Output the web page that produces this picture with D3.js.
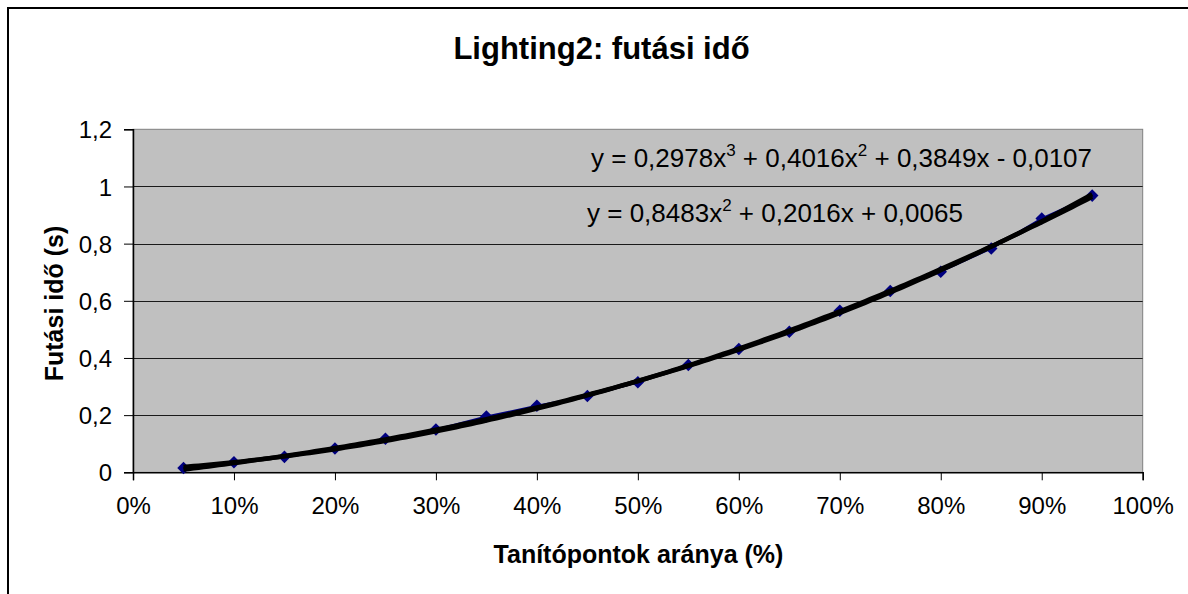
<!DOCTYPE html>
<html>
<head>
<meta charset="utf-8">
<script src="https://cdn.jsdelivr.net/npm/d3@7"></script>
<style>
  body { margin: 0; background: #fff; }
  svg { display: block; font-family: 'Liberation Sans', Arial, sans-serif; }
</style>
</head>
<body>
<svg width="1188" height="594"></svg>
<script>
// measured points (x in %, running time in s)
const xPct = [5, 10, 15, 20, 25, 30, 35, 40, 45, 50, 55, 60, 65, 70, 75, 80, 85, 90, 95];
const runTime = [0.015, 0.035, 0.054, 0.083, 0.117, 0.150, 0.195, 0.233, 0.267, 0.315, 0.375,
  0.431, 0.492, 0.565, 0.634, 0.702, 0.783, 0.888, 0.968];

// trendline coefficients, constant term first (x as fraction)
const cubicCoef = [-0.0107, 0.3849, 0.4016, 0.2978];
const quadCoef = [0.0065, 0.2016, 0.8483];

const xTicks = [0, 10, 20, 30, 40, 50, 60, 70, 80, 90, 100];
const yTicks = [0, 0.2, 0.4, 0.6, 0.8, 1, 1.2];

const titleText = 'Lighting2: futási idő';
const xTitle = 'Tanítópontok aránya (%)';
const yTitle = 'Futási idő (s)';

const plot = { left: 133, top: 129.3, right: 1142.7, bottom: 472.3 };

const svg = d3.select('svg');

// chart frame (runs past the window on right and bottom)
svg.append('rect')
  .attr('x', 8).attr('y', 8)
  .attr('width', 1300).attr('height', 700)
  .attr('fill', '#fff')
  .attr('stroke', '#000')
  .attr('stroke-width', 2);

const xScale = d3.scaleLinear().domain([0, 100]).range([plot.left, plot.right]);
const yScale = d3.scaleLinear().domain([0, 1.2]).range([plot.bottom, plot.top]);

// plot area
svg.append('rect')
  .attr('x', plot.left).attr('y', plot.top)
  .attr('width', plot.right - plot.left)
  .attr('height', plot.bottom - plot.top)
  .attr('fill', '#c0c0c0')
  .attr('stroke', '#808080')
  .attr('stroke-width', 1);

// gridlines
svg.append('g')
  .selectAll('line')
  .data(yTicks.filter(d => d > 0 && d < 1.2))
  .enter()
  .append('line')
    .attr('x1', plot.left)
    .attr('x2', plot.right)
    .attr('y1', d => Math.round(yScale(d)) + 0.5)
    .attr('y2', d => Math.round(yScale(d)) + 0.5)
    .attr('stroke', '#1a1a1a')
    .attr('stroke-width', 1);

const yAxis = d3.axisLeft(yScale)
  .tickValues(yTicks)
  .tickSize(9)
  .tickPadding(12)
  .tickFormat(d => String(d).replace('.', ','));

const xAxis = d3.axisBottom(xScale)
  .tickValues(xTicks)
  .tickSize(8)
  .tickPadding(12)
  .tickFormat(d => d + '%');

const gy = svg.append('g')
  .attr('transform', `translate(${plot.left},0)`)
  .call(yAxis);

const gx = svg.append('g')
  .attr('transform', `translate(0,${plot.bottom})`)
  .call(xAxis);

[gx, gy].forEach(g => {
  g.select('.domain').attr('stroke', '#000').attr('stroke-width', 1.5);
  g.selectAll('.tick line').attr('stroke', '#000');
  g.selectAll('.tick text')
    .attr('fill', '#000')
    .style('font-size', '24px')
    .style('font-family', "'Liberation Sans', Arial, sans-serif");
});
gy.selectAll('.tick text').attr('dy', '0.36em');
gx.selectAll('.tick text').attr('dy', '0.92em');

// series line + diamonds
const points = xPct.map((x, i) => ({ x, y: runTime[i] }));

svg.append('path')
  .datum(points)
  .attr('fill', 'none')
  .attr('stroke', '#000080')
  .attr('stroke-width', 2)
  .attr('d', d3.line().x(d => xScale(d.x)).y(d => yScale(d.y)));

svg.append('g')
  .selectAll('path')
  .data(points)
  .enter()
  .append('path')
    .attr('transform', d => `translate(${xScale(d.x)},${yScale(d.y)})`)
    .attr('d', d3.symbol().type(d3.symbolDiamond2).size(100))
    .attr('fill', '#000080');

// trendlines
const poly = (coef) => (x) => coef.reduce((s, c, k) => s + c * Math.pow(x, k), 0);
const trendX = d3.range(0.05, 0.9501, 0.005);
const trendLine = d3.line().x(d => xScale(d[0] * 100)).y(d => yScale(d[1]));

[quadCoef, cubicCoef].forEach(coef => {
  const f = poly(coef);
  svg.append('path')
    .datum(trendX.map(x => [x, f(x)]))
    .attr('fill', 'none')
    .attr('stroke', '#000')
    .attr('stroke-width', 4.5)
    .attr('stroke-linejoin', 'round')
    .attr('d', trendLine);
});

// trendline equations
const eqs = [
  { x: 591, y: 166.5, parts: [['y = 0,2978x'], ['3', true], [' + 0,4016x'], ['2', true], [' + 0,3849x - 0,0107']] },
  { x: 587, y: 221.5, parts: [['y = 0,8483x'], ['2', true], [' + 0,2016x + 0,0065']] }
];

eqs.forEach(eq => {
  const t = svg.append('text')
    .attr('x', eq.x).attr('y', eq.y)
    .style('font-size', '26px')
    .attr('fill', '#000')
    .attr('xml:space', 'preserve');
  let up = false;
  eq.parts.forEach(([s, sup]) => {
    const ts = t.append('tspan').text(s);
    if (sup && !up) { ts.attr('dy', -11).style('font-size', '17px'); up = true; }
    else if (!sup && up) { ts.attr('dy', 11); up = false; }
  });
});

// titles
svg.append('text')
  .attr('x', 601.5).attr('y', 59)
  .attr('text-anchor', 'middle')
  .style('font-size', '31px')
  .style('font-weight', 'bold')
  .text(titleText);

svg.append('text')
  .attr('x', 638.5).attr('y', 563)
  .attr('text-anchor', 'middle')
  .style('font-size', '25px')
  .style('font-weight', 'bold')
  .text(xTitle);

svg.append('text')
  .attr('transform', 'translate(63,303.5) rotate(-90)')
  .attr('text-anchor', 'middle')
  .style('font-size', '25px')
  .style('font-weight', 'bold')
  .text(yTitle);
</script>
</body>
</html>
